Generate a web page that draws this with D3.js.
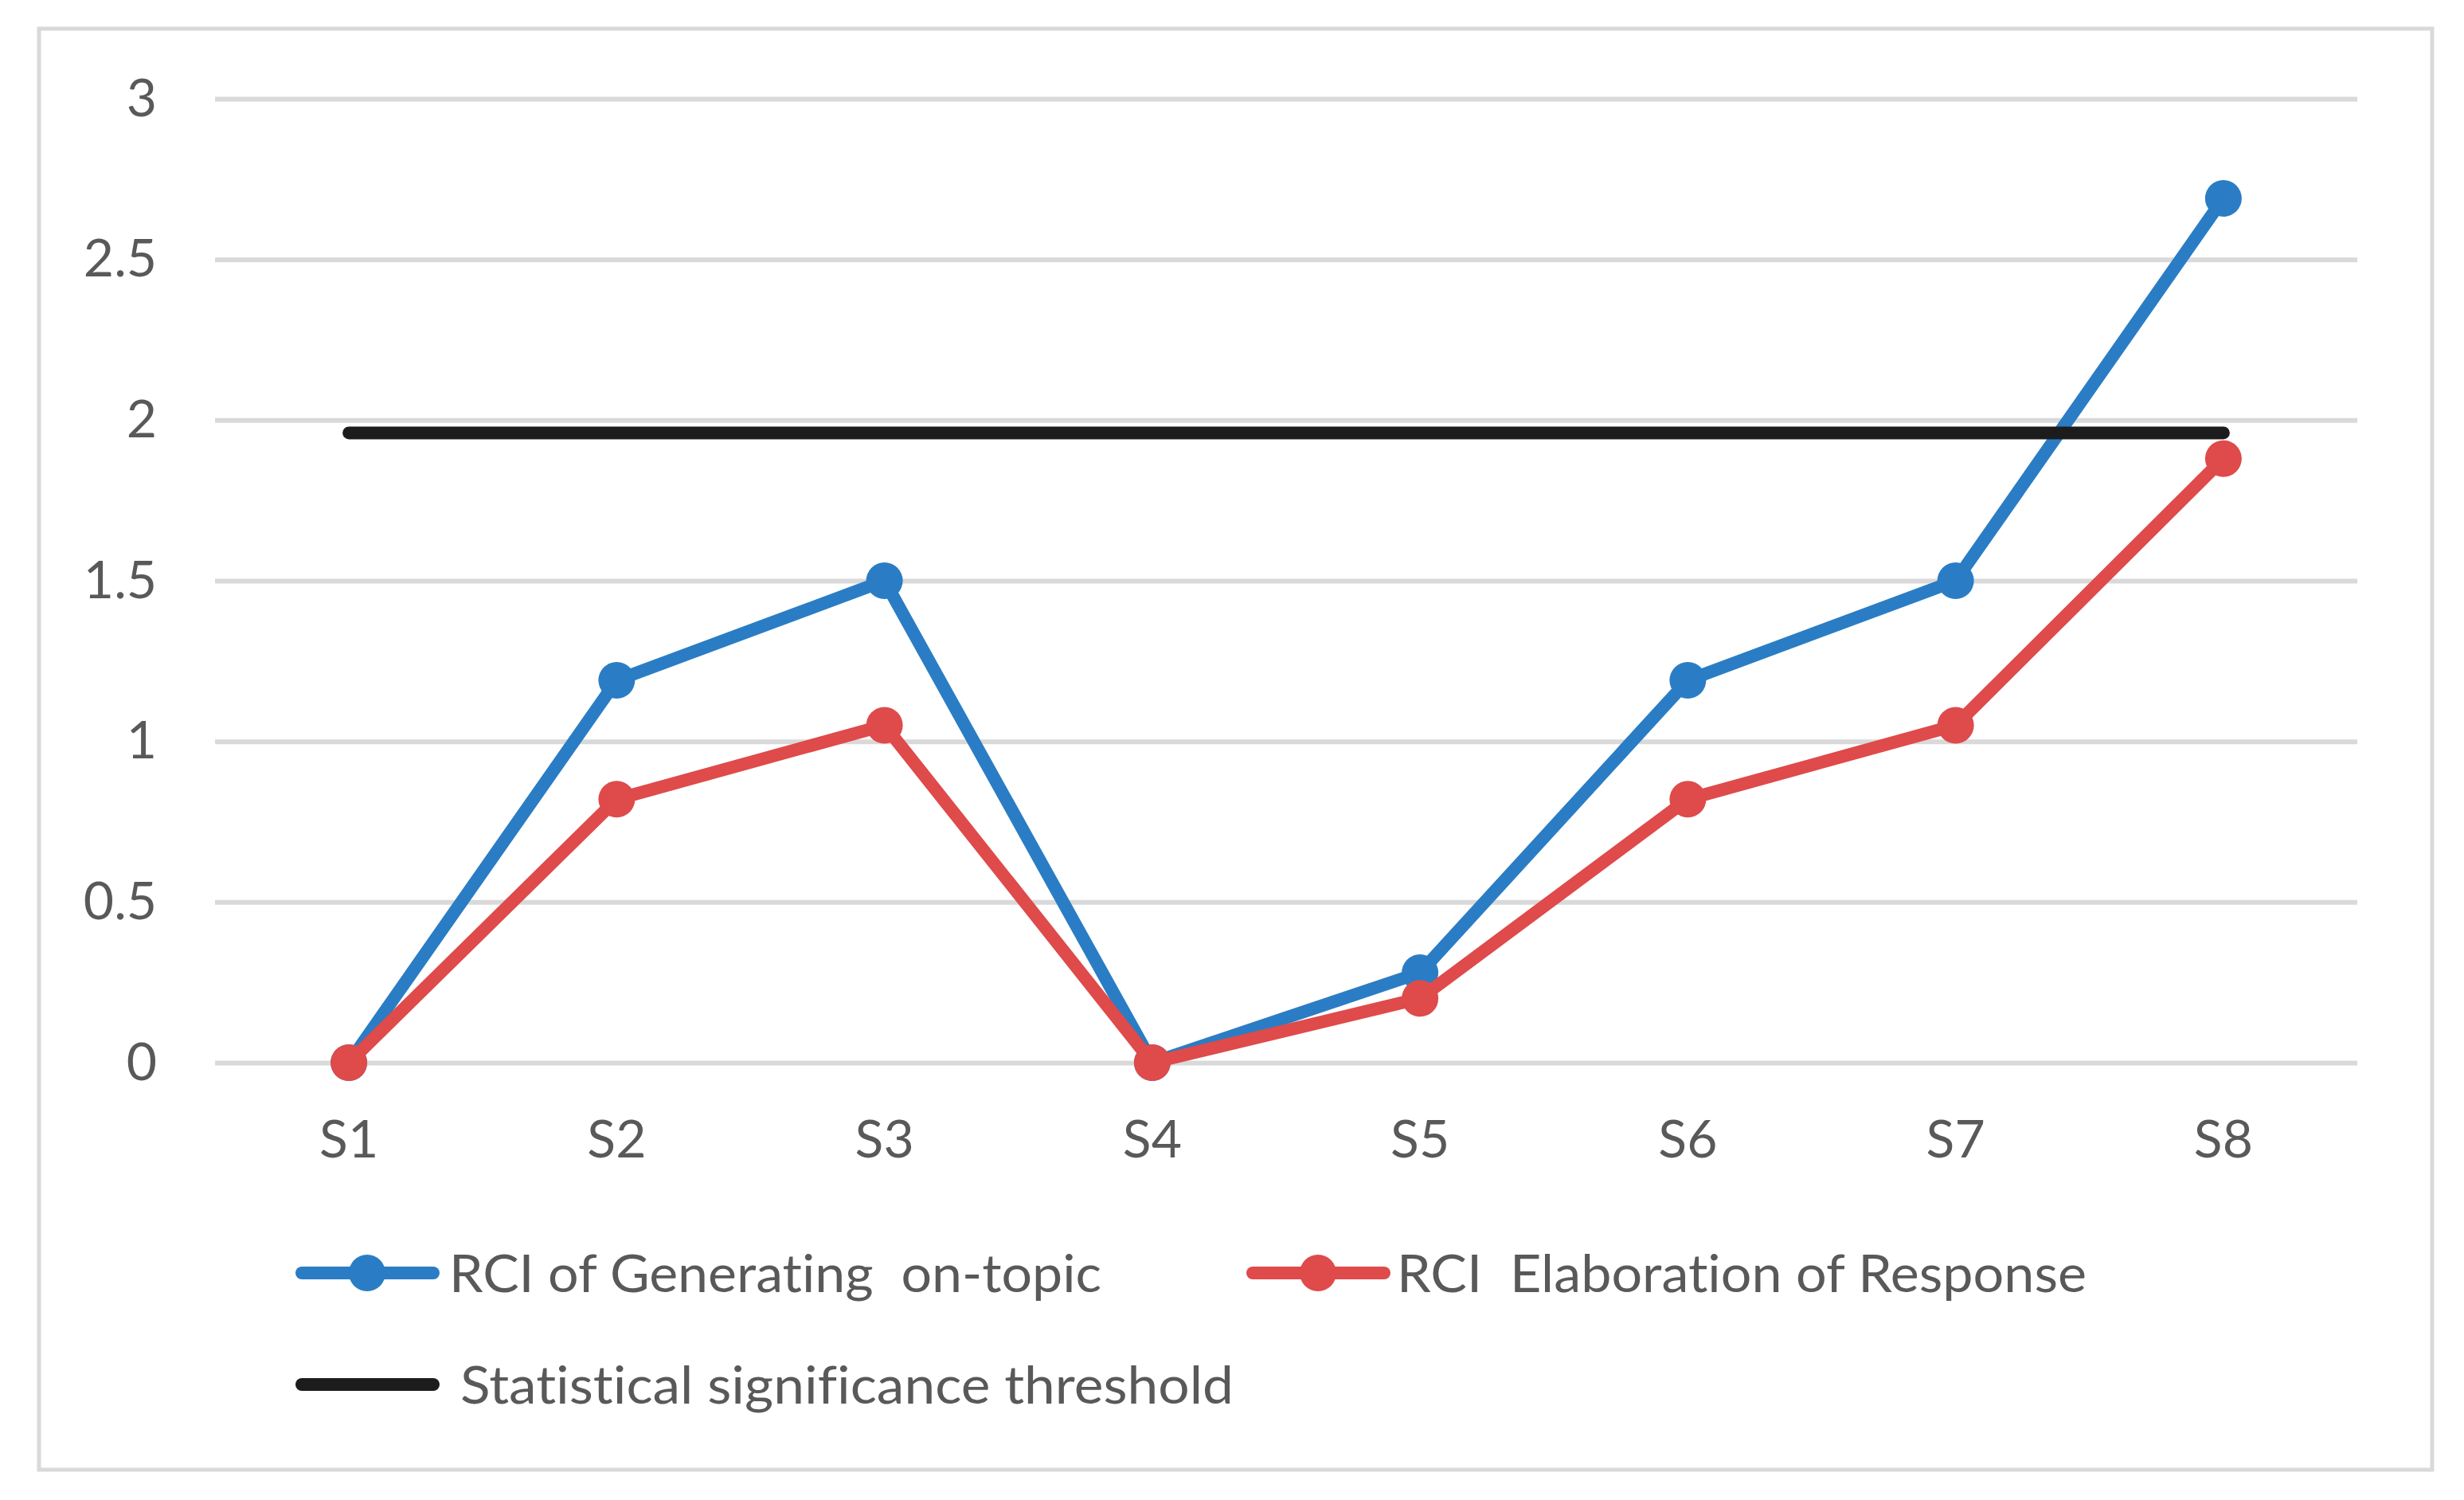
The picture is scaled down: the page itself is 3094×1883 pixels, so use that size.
<html>
<head>
<script src="https://d3js.org/d3.v7.min.js"></script>
<style>
  body { margin: 0; background: #fff; }
  .tick text { fill: #595959; font-family: Lato, "Open Sans", sans-serif; }
  .legend text { fill: #595959; font-family: Lato, "Open Sans", sans-serif; white-space: pre; font-variant-ligatures: none; }
</style>
</head>
<body>
<svg width="3094" height="1883"></svg>
<script>

// chart data
var categories = ["S1", "S2", "S3", "S4", "S5", "S6", "S7", "S8"];
var generating = [0, 1.19, 1.50, 0, 0.28, 1.19, 1.50, 2.69];
var elaboration = [0, 0.82, 1.05, 0, 0.20, 0.82, 1.05, 1.88];
var threshold = 1.96;
var yTicks = [0, 0.5, 1, 1.5, 2, 2.5, 3];
var seriesNames = ["RCI of Generating  on-topic", "RCI  Elaboration of Response", "Statistical significance threshold"];

var blue = "#2a7dc4", red = "#df4a4a", black = "#1c1c1c";

var svg = d3.select("svg");

// outer frame
svg.append("rect")
   .attr("x", 49).attr("y", 36)
   .attr("width", 3005).attr("height", 1809)
   .attr("fill", "#fff")
   .attr("stroke", "#d9d9d9")
   .attr("stroke-width", 5);

var plotLeft = 270, plotRight = 2960, plotTop = 124, plotBottom = 1334;

var xScale = d3.scaleBand().domain(categories).range([plotLeft, plotRight]).padding(0),
    yScale = d3.scaleLinear().domain([0, 3]).range([plotBottom, plotTop]);

function cx(d) { return xScale(d) + xScale.bandwidth() / 2; }

// gridlines + y labels
var yAxis = svg.append("g")
   .attr("transform", "translate(" + plotLeft + ",0)")
   .call(d3.axisLeft(yScale).tickValues(yTicks).tickSize(-(plotRight - plotLeft)).tickPadding(73).tickFormat(function(d) { return d; }));
yAxis.select(".domain").remove();
yAxis.selectAll(".tick line").attr("stroke", "#d9d9d9").attr("stroke-width", 6);
yAxis.selectAll(".tick text").attr("font-size", 66);

// x labels
var xAxis = svg.append("g")
   .attr("transform", "translate(0," + plotBottom + ")")
   .call(d3.axisBottom(xScale).tickSize(0).tickPadding(72));
xAxis.select(".domain").remove();
xAxis.selectAll(".tick text").attr("font-size", 66);

var line = d3.line()
   .x(function(d, i) { return cx(categories[i]); })
   .y(function(d) { return yScale(d); });

function drawSeries(values, colour) {
  svg.append("path")
     .datum(values)
     .attr("fill", "none")
     .attr("stroke", colour)
     .attr("stroke-width", 16)
     .attr("stroke-linejoin", "round")
     .attr("d", line);
  svg.append("g").selectAll("circle")
     .data(values)
     .enter().append("circle")
     .attr("cx", function(d, i) { return cx(categories[i]); })
     .attr("cy", function(d) { return yScale(d); })
     .attr("r", 23)
     .attr("fill", colour);
}

drawSeries(generating, blue);
drawSeries(elaboration, red);

// threshold line
svg.append("line")
   .attr("x1", cx(categories[0]))
   .attr("x2", cx(categories[categories.length - 1]))
   .attr("y1", yScale(threshold))
   .attr("y2", yScale(threshold))
   .attr("stroke", black)
   .attr("stroke-width", 16)
   .attr("stroke-linecap", "round");

// legend
var legend = svg.append("g").attr("class", "legend");
var items = [
  { name: seriesNames[0], colour: blue, marker: true, x: 379, y: 1598, tx: 564, len: 819 },
  { name: seriesNames[1], colour: red, marker: true, x: 1573, y: 1598, tx: 1754, len: 866 },
  { name: seriesNames[2], colour: black, marker: false, x: 379, y: 1738, tx: 578, len: 971 }
];
items.forEach(function(it) {
  legend.append("line")
     .attr("x1", it.x).attr("x2", it.x + 165)
     .attr("y1", it.y).attr("y2", it.y)
     .attr("stroke", it.colour)
     .attr("stroke-width", 16)
     .attr("stroke-linecap", "round");
  if (it.marker) {
    legend.append("circle")
       .attr("cx", it.x + 82).attr("cy", it.y)
       .attr("r", 23).attr("fill", it.colour);
  }
  legend.append("text")
     .attr("x", it.tx).attr("y", it.y + 24)
     .attr("font-size", 66)
     .attr("textLength", it.len)
     .attr("lengthAdjust", "spacingAndGlyphs")
     .text(it.name);
});

</script>
</body>
</html>
